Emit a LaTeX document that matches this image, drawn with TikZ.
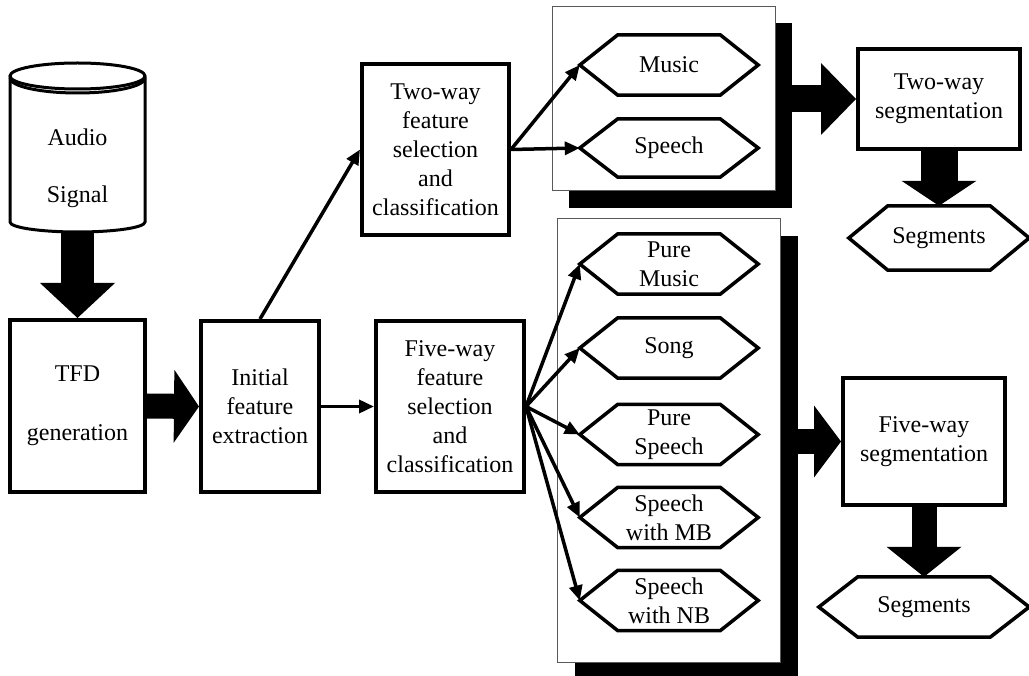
\documentclass[tikz,border=0pt]{standalone}
\usepackage{fontspec}
\setmainfont{Liberation Serif}
\usetikzlibrary{arrows.meta}
% outline of a hexagonal terminal drawn round a named node
\newcommand\drawhexagon[2][38]{%
  \draw[hexpen] (#2.west) -- ([xshift=#1pt]#2.north west) -- ([xshift=-#1pt]#2.north east)
    -- (#2.east) -- ([xshift=-#1pt]#2.south east) -- ([xshift=#1pt]#2.south west) -- cycle;}
\begin{document}
\begin{tikzpicture}[x=1pt,y=-1pt,
  every node/.style={font=\fontsize{24}{29}\selectfont, align=center, inner sep=0pt},
  box/.style 2 args={draw, line width=4pt, minimum width=#1, minimum height=#2},
  hexa/.style 2 args={minimum width=#1, minimum height=#2},
  hexpen/.style={line width=3.5pt, line join=miter},
  panel/.style 2 args={draw=black!65, line width=1pt, fill=white, minimum width=#1, minimum height=#2},
  shadowbox/.style 2 args={fill=black, minimum width=#1, minimum height=#2},
  cylpen/.style={line width=3pt},
  arr/.style={line width=3.5pt, -{Triangle[length=15pt,width=13pt]}},
  fat/.style n args={3}{line width=#1, -{Triangle[length=#2,width=#3,line width=0pt]}}
]
\useasboundingbox (0,0) rectangle (1029,676);

% audio signal store
\node[minimum width=135, minimum height=169] (sig) at (77.5,147.5) {};
\draw[cylpen] (10,77) -- (10,222) arc[start angle=180, end angle=360, x radius=67.5pt, y radius=10pt] -- (145,77);
\draw[cylpen] (77.5,76) ellipse[x radius=67.5pt, y radius=13pt];
\draw[cylpen] (10,78) arc[start angle=180, end angle=360, x radius=67.5pt, y radius=15pt];
\node (sigt) at (77.5,168.5) {Audio\\[28pt]Signal};

% processing blocks
\node[box={135}{172}] (tfd) at (77.5,406) {TFD\\[30pt]generation};
\node[box={118}{171}] (ini) at (260,406.5) {Initial\\feature\\extraction};
\node[box={148}{171}] (fw) at (450,406.5) {Five-way\\feature\\selection\\and\\classification};
\node[box={147}{171}] (tw) at (435.5,149.5) {Two-way\\feature\\selection\\and\\classification};

% class panels with drop shadows
\node[shadowbox={223}{185}] (tsh) at (680.5,116) {};
\node[panel={223}{184}] (tp) at (663.5,99) {};
\node[shadowbox={223}{443}] (lsh) at (686.5,457.5) {};
\node[panel={223}{443}] (lp) at (668.5,440.5) {};

% class labels
\node[hexa={178}{60}] (mus) at (669,65) {Music};
\node[hexa={178}{58}] (sp) at (669,148) {Speech};
\node[hexa={178}{60}] (pm) at (669,264) {Pure\\Music};
\node[hexa={178}{60}] (sg) at (669,348) {Song};
\node[hexa={178}{60}] (ps) at (669,434.5) {Pure\\Speech};
\node[hexa={178}{60}] (mb) at (669,517.5) {Speech\\with MB};
\node[hexa={178}{60}] (nb) at (669,600.5) {Speech\\with NB};
\foreach \h in {mus,sp,pm,sg,ps,mb,nb} {\drawhexagon{\h}}

% segmentation blocks and outputs
\node[box={162}{100}] (tws) at (939,99) {Two-way\\segmentation};
\node[box={162}{127}] (fws) at (924,441.5) {Five-way\\segmentation};
\node[hexa={180}{64}] (s1) at (939,238) {Segments};
\node[hexa={210}{60}] (s2) at (924,607) {Segments};
\drawhexagon[39]{s1}
\drawhexagon[39]{s2}

% connectors
\draw[fat={33pt}{35pt}{75pt}] (sig.south) -- (tfd.north);
\draw[fat={25pt}{25pt}{73pt}] (tfd.east) -- (ini.west);
\draw[arr] (ini.east) -- (fw.west);
\draw[arr] (ini.north) -- (tw.west);
\draw[arr] (tw.east) -- (mus.west);
\draw[arr] (tw.east) -- (sp.west);
\foreach \h in {pm,sg,ps,mb,nb} {\draw[arr] (fw.east) -- (\h.west);}
\draw[fat={27pt}{35pt}{72pt}] (tsh.east |- tws.west) -- (tws.west);
\draw[fat={25pt}{27pt}{72pt}] (lsh.east |- fws.west) -- (fws.west);
\draw[fat={37pt}{25pt}{75pt}] (tws.south) -- (s1.north);
\draw[fat={25pt}{30pt}{75pt}] (fws.south) -- (s2.north);
\end{tikzpicture}
\end{document}
